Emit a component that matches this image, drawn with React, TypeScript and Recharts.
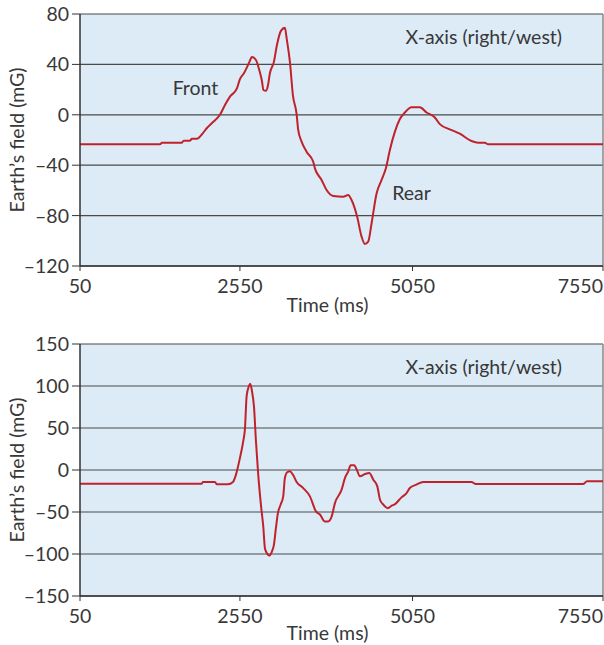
import React from 'react'
import { LineChart, Line, XAxis, YAxis, CartesianGrid, ReferenceLine, ReferenceDot } from 'recharts'

// time axis: the figure's tick spacing is not even, so the scale is stretched piecewise
const TIME_TICKS = [50, 2550, 5050, 7550]
const TIME_TICK_FRACS = [0, 0.3058, 0.6358, 1]

const TOP_FIELD_TICKS = [-120, -80, -40, 0, 40, 80]
const BOTTOM_FIELD_TICKS = [-150, -100, -50, 0, 50, 100, 150]

// top panel trace (ms, mG)
const TOP_TIME = [
  50, 1300, 1330, 1640, 1670, 1770, 1800, 1878, 1972, 2034, 2113, 2238, 2316, 2394, 2503, 2550,
  2608, 2680, 2724, 2782, 2825, 2868, 2890, 2926, 2955, 2984, 3042, 3086, 3144, 3201, 3230, 3274,
  3317, 3371, 3394, 3443, 3515, 3611, 3636, 3733, 3805, 3901, 4046, 4118, 4167, 4248, 4312, 4360,
  4408, 4457, 4530, 4602, 4664, 4722, 4795, 4867, 4939, 5036, 5146, 5234, 5343, 5408, 5539, 5670,
  5824, 5911, 5999, 6042, 7550,
]
const TOP_FIELD = [
  -23.4, -23.4, -22.2, -22.2, -20.5, -20.5, -19, -19, -14.5, -10.5, -6.5, 0, 7.7, 14.4, 21, 28.4,
  33, 41, 45.8, 43.5, 36.6, 27, 19.7, 19, 23, 33, 42, 55.4, 66.6, 69, 59.4, 42,
  15.7, 0.5, -12, -21.3, -29.3, -37.2, -42.5, -51.7, -59.7, -64.4, -65, -63.6, -67.6, -80.9, -96.7, -102.5,
  -100.7, -86.1, -62.3, -51.7, -42.5, -27.9, -13.4, -3.4, 1.8, 5.9, 5.9, 1.8, -2.1, -7.4, -11.5, -15,
  -20.8, -22.1, -22.1, -23.4, -23.4,
]

// bottom panel trace (ms, mG)
const BOTTOM_TIME = [
  50, 1952, 1972, 2159, 2191, 2363, 2441, 2488, 2550, 2598, 2622, 2647, 2680, 2699, 2724, 2753,
  2782, 2815, 2859, 2888, 2912, 2941, 2974, 3013, 3042, 3071, 3100, 3139, 3177, 3201, 3235, 3274,
  3317, 3371, 3467, 3564, 3651, 3709, 3781, 3829, 3879, 3926, 4023, 4071, 4119, 4154, 4206, 4241,
  4289, 4361, 4424, 4482, 4540, 4579, 4627, 4691, 4749, 4797, 4890, 4963, 5011, 5102, 5189, 5824,
  5880, 7288, 7340, 7550,
]
const BOTTOM_FIELD = [
  -16.3, -16.3, -14.3, -14.3, -17, -17, -14.3, -5.5, 14.3, 34.3, 48.3, 88, 100, 102.8, 94, 76,
  34.3, -5.5, -45.4, -67.3, -93.2, -99.2, -101.9, -97.1, -89.1, -69.3, -51.4, -41.3, -31.4, -9.6, -2.7, -1.6,
  -5.5, -14.3, -21.5, -31.4, -49.3, -53, -61.3, -61.3, -55.3, -39.4, -23.4, -9.6, -1.6, 5.6, 5.6, 0.5,
  -7.5, -4.8, -3.6, -11.5, -19.5, -35.4, -41.3, -45.4, -42.5, -40.6, -32.6, -27.5, -21.5, -17.4, -14.3, -14.3,
  -16.7, -16.7, -13.5, -13.5,
]

// annotations: [text, time, field]
const TOP_NOTES: [string, number, number][] = [
  ['X-axis (right/west)', 5985, 61.3],
  ['Front', 1855, 21.3],
  ['Rear', 5036, -62],
]
const BOTTOM_NOTES: [string, number, number][] = [['X-axis (right/west)', 5985, 122.7]]

const INK = '#383838'
const FONT = 'Lato, "Open Sans", sans-serif'
const FS = 19.5
const RED = '#C0222C'

function stretchedScale(knots: number[], fracs: number[]) {
  let dom: number[] = [knots[0], knots[knots.length - 1]]
  let rng: number[] = [0, 1]
  const frac = (v: number) => {
    let i = 0
    while (i < knots.length - 2 && v > knots[i + 1]) i++
    return fracs[i] + ((v - knots[i]) / (knots[i + 1] - knots[i])) * (fracs[i + 1] - fracs[i])
  }
  const scale: any = (v: number) => rng[0] + frac(Number(v)) * (rng[1] - rng[0])
  scale.domain = (d?: number[]) => {
    if (d === undefined) return dom.slice()
    dom = d.map(Number)
    return scale
  }
  scale.range = (r?: number[]) => {
    if (r === undefined) return rng.slice()
    rng = r.map(Number)
    return scale
  }
  scale.copy = () => stretchedScale(knots, fracs).domain(dom).range(rng)
  scale.ticks = () => knots.slice()
  scale.tickFormat = () => (v: number) => String(v)
  scale.invert = (px: number) => {
    const f = (px - rng[0]) / (rng[1] - rng[0])
    let i = 0
    while (i < fracs.length - 2 && f > fracs[i + 1]) i++
    return knots[i] + ((f - fracs[i]) / (fracs[i + 1] - fracs[i])) * (knots[i + 1] - knots[i])
  }
  scale.clamp = () => scale
  scale.nice = () => scale
  return scale
}

const fmt = (v: number) => (v < 0 ? `–${Math.abs(v)}` : `${v}`)

function TimeTick(props: any) {
  const { x, y, payload, index } = props
  const last = index === TIME_TICKS.length - 1
  return (
    <text x={x} y={y} dy="0.71em" textAnchor={last ? 'end' : 'middle'} fill={INK} fontSize={FS} fontFamily={FONT}>
      {payload.value}
    </text>
  )
}

function Panel({
  time,
  field,
  ticks,
  notes,
  titleDrop,
}: {
  time: number[]
  field: number[]
  ticks: number[]
  notes: [string, number, number][]
  titleDrop: number
}) {
  const data = time.map((t, i) => ({ t, v: field[i] }))
  const timeScale = stretchedScale(TIME_TICKS, TIME_TICK_FRACS)
  const lo = ticks[0]
  const hi = ticks[ticks.length - 1]
  return (
    <LineChart width={604} height={315} data={data} margin={{ top: 14, right: 1, left: 0, bottom: 0 }}>
      <CartesianGrid vertical={false} stroke="#4a4a4a" strokeWidth={1.2} fill="#DCEBF6" fillOpacity={1} />
      <XAxis
        dataKey="t"
        type="number"
        scale={timeScale}
        domain={[TIME_TICKS[0], TIME_TICKS[TIME_TICKS.length - 1]]}
        ticks={TIME_TICKS}
        interval={0}
        height={49}
        tickSize={5}
        tickMargin={8}
        axisLine={{ stroke: '#333', strokeWidth: 1.5 }}
        tickLine={{ stroke: '#333' }}
        tick={<TimeTick />}
        label={{
          content: (p: any) => {
            const vb = p.viewBox || { x: 80, y: 266, width: 523 }
            return (
              <text x={vb.x + vb.width / 2 - 14} y={vb.y + titleDrop} dy="0.35em" textAnchor="middle" fill={INK} fontSize={FS} fontFamily={FONT}>
                Time (ms)
              </text>
            )
          },
        }}
      />
      <YAxis
        type="number"
        domain={[lo, hi]}
        ticks={ticks}
        interval={0}
        width={80}
        tickSize={8}
        tickMargin={3}
        tickFormatter={fmt}
        axisLine={{ stroke: '#333', strokeWidth: 1.5 }}
        tickLine={{ stroke: '#333' }}
        tick={{ fill: INK, fontSize: FS, fontFamily: FONT }}
        label={{
          content: (p: any) => {
            const vb = p.viewBox || { x: 0, y: 14, height: 252 }
            const cx = vb.x + 17
            const cy = vb.y + vb.height / 2
            return (
              <text x={cx} y={cy} dy="0.35em" textAnchor="middle" transform={`rotate(-90 ${cx} ${cy})`} fill={INK} fontSize={FS} fontFamily={FONT}>
                Earth’s field (mG)
              </text>
            )
          },
        }}
      />
      <ReferenceLine x={TIME_TICKS[TIME_TICKS.length - 1]} stroke="#8a8a8a" strokeWidth={1.5} />
      {notes.map(([text, t, v]) => (
        <ReferenceDot
          key={text}
          x={t}
          y={v}
          r={0}
          fill="none"
          stroke="none"
          label={{ value: text, position: 'center', fill: INK, fontSize: FS, fontFamily: FONT }}
        />
      ))}
      <Line type="monotone" dataKey="v" stroke={RED} strokeWidth={2} dot={false} isAnimationActive={false} />
    </LineChart>
  )
}

export default function App() {
  return (
    <div style={{ position: 'absolute', left: 0, top: 0, width: 604, height: 645, background: '#fff', overflow: 'hidden' }}>
      <div style={{ position: 'absolute', left: 0, top: 0 }}>
        <Panel time={TOP_TIME} field={TOP_FIELD} ticks={TOP_FIELD_TICKS} notes={TOP_NOTES} titleDrop={39} />
      </div>
      <div style={{ position: 'absolute', left: 0, top: 330 }}>
        <Panel time={BOTTOM_TIME} field={BOTTOM_FIELD} ticks={BOTTOM_FIELD_TICKS} notes={BOTTOM_NOTES} titleDrop={37} />
      </div>
    </div>
  )
}
